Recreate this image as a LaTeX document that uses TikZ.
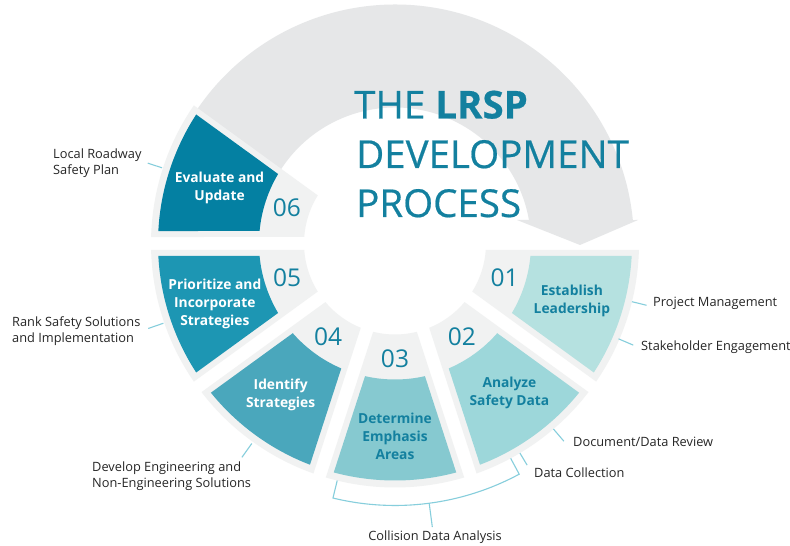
\documentclass[tikz,border=0pt]{standalone}
\usepackage{fontspec}
\setmainfont{Open Sans}
\newfontfamily\titlefont[FakeBold=0.5]{Open Sans}
\definecolor{cSix}{HTML}{0480A2}
\definecolor{cFive}{HTML}{1D96B3}
\definecolor{cFour}{HTML}{4AA7BC}
\definecolor{cThree}{HTML}{86C9D0}
\definecolor{cTwo}{HTML}{9DD7DA}
\definecolor{cOne}{HTML}{B5E1E0}
\definecolor{framegray}{HTML}{F1F2F2}
\definecolor{arrowgray}{HTML}{E6E7E8}
\definecolor{tealtxt}{HTML}{13809F}
\definecolor{labelgray}{HTML}{262626}
\definecolor{connblue}{HTML}{86CEDC}
% wedge with parallel gaps: a1 a2 rin rout halfgap colour
\newcommand{\wedgefill}[6]{%
  \fill[#6] ({#1+asin(#5/#3)}:#3pt) -- ({#1+asin(#5/#4)}:#4pt)
    arc[start angle={#1+asin(#5/#4)}, end angle={#2-asin(#5/#4)}, radius=#4pt]
    -- ({#2-asin(#5/#3)}:#3pt)
    arc[start angle={#2-asin(#5/#3)}, end angle={#1+asin(#5/#3)}, radius=#3pt] -- cycle;}
\begin{document}
\begin{tikzpicture}[x=1pt,y=1pt,
  segtxt/.style={font=\bfseries\fontsize{13.8}{18}\selectfont, align=center, inner sep=0pt},
  numtxt/.style={font=\fontsize{24.5}{25}\selectfont, text=tealtxt, inner sep=0pt},
  sidetxt/.style={font=\fontsize{12.8}{16.5}\selectfont, text=labelgray, align=left, inner sep=0pt},
  titletxt/.style={font=\titlefont\fontsize{38.5}{40}\selectfont, text=tealtxt, inner sep=0pt, anchor=base west},
  conn/.style={draw=connblue, line width=1.1pt},
]
\useasboundingbox (0,0) rectangle (790,546);
\fill[white] (0,0) rectangle (790,546);
\begin{scope}[shift={(395,302.5)}]
  % curved arrow
  \fill[arrowgray] (150:136pt)
    arc[start angle=150, end angle={asin(23.5/136)}, radius=136pt]
    -- (122,23.5) -- (185,-1.5) -- (243,23.5)
    -- ({asin(23.5/239)}:239pt)
    arc[start angle={asin(23.5/239)}, end angle=150, radius=239pt] -- cycle;
  % frames
  \wedgefill{144}{180}{91}{244}{6.5}{framegray}
  \wedgefill{180}{216}{91}{244}{6.5}{framegray}
  \wedgefill{216}{252}{91}{244}{6.5}{framegray}
  \wedgefill{252}{288}{91}{244}{6.5}{framegray}
  \wedgefill{288}{324}{91}{244}{6.5}{framegray}
  \wedgefill{324}{360}{91}{244}{6.5}{framegray}
  % coloured parts
  \wedgefill{144}{180}{136}{237}{12.5}{cSix}
  \wedgefill{180}{216}{136}{237}{12.5}{cFive}
  \wedgefill{216}{252}{136}{237}{12.5}{cFour}
  \wedgefill{252}{288}{136}{237}{12.5}{cThree}
  \wedgefill{288}{324}{136}{237}{12.5}{cTwo}
  \wedgefill{324}{360}{136}{237}{12.5}{cOne}
  % numbers
  \node[numtxt] (n06) at (161.6:114pt) {06};
  \node[numtxt] (n05) at (197.5:113pt) {05};
  \node[numtxt] (n04) at (234.5:115pt) {04};
  \node[numtxt] (n03) at (270:115pt) {03};
  \node[numtxt] (n02) at (305.6:115pt) {02};
  \node[numtxt] (n01) at (342.6:115pt) {01};
  % segment labels
  \node[segtxt, text=white] (s06) at (162.5:184pt) {Evaluate and\\Update};
  \node[segtxt, text=white] (s05) at (198.5:190pt) {Prioritize and\\Incorporate\\Strategies};
  \node[segtxt, text=white] (s04) at (233:190pt) {Identify\\Strategies};
  \node[segtxt, text=tealtxt] (s03) at (270:193pt) {Determine\\Emphasis\\Areas};
  \node[segtxt, text=tealtxt] (s02) at (307.5:188pt) {Analyze\\Safety Data};
  \node[segtxt, text=tealtxt] (s01) at (342:186pt) {Establish\\Leadership};
  % connector end points
  \coordinate (k06a) at (162:245pt);   \coordinate (k06b) at (162:260pt);
  \coordinate (k05a) at (199:245pt);   \coordinate (k05b) at (199:261pt);
  \coordinate (k04a) at (234.4:246pt); \coordinate (k04b) at (234.4:263pt);
  \coordinate (k02a) at (310.5:244pt); \coordinate (k02b) at (310.5:260pt);
  \coordinate (k02c) at (300.8:244pt); \coordinate (k02d) at (300.8:258pt);
  \coordinate (k01a) at (346.2:244pt); \coordinate (k01b) at (346.2:259pt);
  \coordinate (k01c) at (336.9:243pt); \coordinate (k01d) at (336.9:259pt);
  \coordinate (bL) at (256.3:244pt);
  \coordinate (bR) at (298.3:244pt);
  \coordinate (bS) at (277.5:262pt);
  \coordinate (bT) at (277.5:286pt);
\end{scope}
% title
\node[titletxt] (t1) at (354,427.5) {THE \textbf{LRSP}};
\node[titletxt] (t2) at (356,378) {DEVELOPMENT};
\node[titletxt] (t3) at (356,329) {PROCESS};
% side labels
\node[sidetxt, anchor=west] (l06) at (53,383) {Local Roadway\\Safety Plan};
\node[sidetxt, anchor=west] (l05) at (12,215) {Rank Safety Solutions\\and Implementation};
\node[sidetxt, anchor=west] (l04) at (92,70) {Develop Engineering and\\Non-Engineering Solutions};
\node[sidetxt, anchor=center] (l03) at (435,8.5) {Collision Data Analysis};
\node[sidetxt, anchor=west] (l02a) at (573,104) {Document/Data Review};
\node[sidetxt, anchor=west] (l02b) at (534,73) {Data Collection};
\node[sidetxt, anchor=west] (l01a) at (653,243) {Project Management};
\node[sidetxt, anchor=west] (l01b) at (641,199) {Stakeholder Engagement};
% connectors
\draw[conn] (k06a) -- (k06b);
\draw[conn] (k05a) -- (k05b);
\draw[conn] (k04a) -- (k04b);
\draw[conn] (k02a) -- (k02b);
\draw[conn] (k02c) -- (k02d);
\draw[conn] (k01a) -- (k01b);
\draw[conn] (k01c) -- (k01d);
\draw[conn] (bL) -- ++(256.3:18pt) arc[start angle=256.3, end angle=298.3, radius=262pt] -- (bR);
\draw[conn] (bS) -- (bT);
\end{tikzpicture}
\end{document}
